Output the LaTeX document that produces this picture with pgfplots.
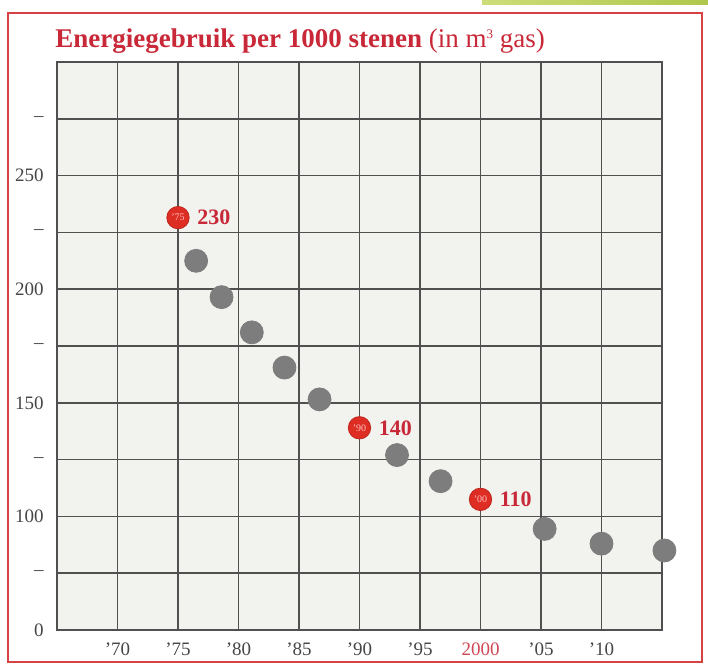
\documentclass[border=0pt]{standalone}
\usepackage{fontspec}
\setmainfont{Liberation Serif}
\usepackage{pgfplots}
\pgfplotsset{compat=1.18}
\definecolor{framered}{RGB}{215,65,65}
\definecolor{titlered}{RGB}{200,40,55}
\definecolor{dotred}{RGB}{222,45,35}
\definecolor{dotgray}{RGB}{125,125,125}
\definecolor{gridgray}{RGB}{80,80,80}
\definecolor{bggray}{RGB}{242,242,238}
\definecolor{ticktext}{RGB}{70,70,70}
\definecolor{barA}{RGB}{205,220,120}
\definecolor{barB}{RGB}{175,200,75}
\begin{document}
\begin{tikzpicture}
\path[use as bounding box] (0pt,0pt) rectangle (354pt,332.5pt);
\shade[left color=barA, right color=barB] (241pt,332.5pt) rectangle (354pt,330pt);
\draw[framered, line width=1pt] (4pt,1.5pt) rectangle (351pt,326pt);
\node[anchor=base west, inner sep=0pt, text=titlered, font=\fontsize{13.5pt}{15pt}\selectfont] at (27.5pt,308.5pt)
  {\textbf{Energiegebruik per 1000 stenen} (in m\raisebox{0.75ex}{\fontsize{6.5pt}{7pt}\selectfont 3} gas)};
\begin{axis}[
  at={(28.5pt,17.5pt)}, anchor=south west,
  scale only axis, width=302.5pt, height=284pt,
  xmin=1965, xmax=2015, ymin=50, ymax=300,
  clip=false,
  axis background/.style={fill=bggray},
  axis line style={gridgray, line width=0.8pt},
  grid=major,
  major grid style={gridgray, line width=0.8pt},
  major tick length=0pt,
  xtick={1970,1975,1980,1985,1990,1995,2000,2005,2010},
  xticklabels={’70,’75,’80,’85,’90,’95,\textcolor{titlered!85!white}{2000},’05,’10},
  ytick={50,75,100,125,150,175,200,225,250,275},
  yticklabels={0,–,100,–,150,–,200,–,250,–},
  /pgf/number format/assume math mode=true,
  tick label style={font=\fontsize{9.5pt}{11pt}\selectfont, text=ticktext},
  xticklabel style={anchor=north, inner sep=0pt, yshift=-6pt},
  yticklabel style={anchor=east, inner sep=0pt, xshift=-6.5pt},
]
\addplot[only marks, mark=*, mark size=5.75pt, mark options={fill=dotgray, draw=dotgray}] coordinates {
(1976.5,212.5) (1978.6,196.5) (1981.1,181) (1983.8,165.5) (1986.7,151.5)
(1993.1,127) (1996.7,115.5) (2005.3,94.5) (2010.0,88) (2015.2,85)
};
\addplot[only marks, mark=*, mark size=5.6pt, mark options={fill=dotred, draw=dotred!85!black, line width=0.4pt},
  nodes near coords, point meta=explicit symbolic,
  nodes near coords style={anchor=center, inner sep=0pt, text=red!25!white, font=\fontsize{5pt}{5.5pt}\selectfont}]
  table[meta=inner] {
x y inner
1975 231.5 ’75
1990 139 ’90
2000 107.5 ’00
};
\addplot[draw=none, mark=none, forget plot,
  nodes near coords, point meta=explicit symbolic,
  nodes near coords style={anchor=west, inner sep=0pt, xshift=9.5pt, text=titlered, font=\bfseries\fontsize{11pt}{13pt}\selectfont}]
  table[meta=lab] {
x y lab
1975 231.5 230
1990 139 140
2000 107.5 110
};
\end{axis}
\end{tikzpicture}
\end{document}
